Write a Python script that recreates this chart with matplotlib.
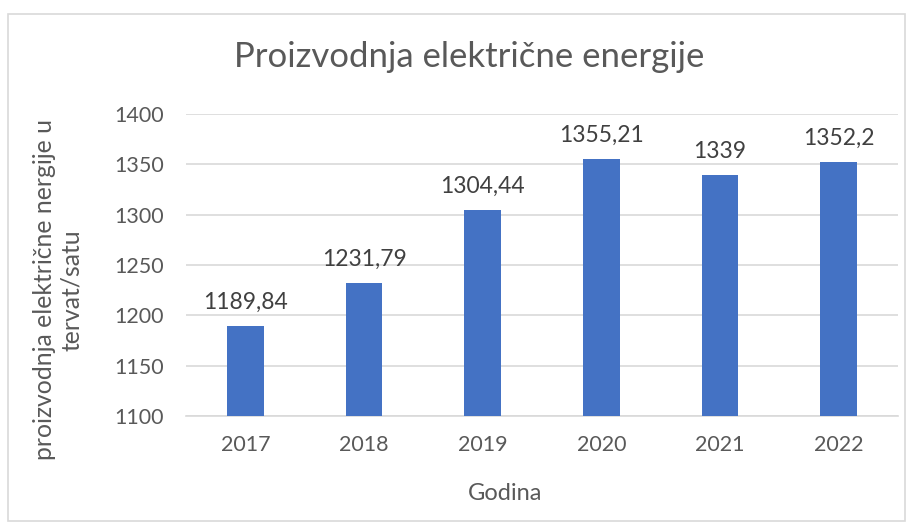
import matplotlib
matplotlib.use("Agg")
import matplotlib.pyplot as plt
from matplotlib.patches import Rectangle

# data
years = ["2017", "2018", "2019", "2020", "2021", "2022"]
values = [1189.84, 1231.79, 1304.44, 1355.21, 1339, 1352.2]
yticks = [1100, 1150, 1200, 1250, 1300, 1350, 1400]

text_col = "#595959"
grid_col = "#d9d9d9"
bar_col = "#4472c4"

plt.rcParams["font.family"] = ["Lato", "DejaVu Sans"]

W, H = 913, 528
fig = plt.figure(figsize=(W / 100, H / 100), dpi=100)

# chart border
fig.patches.append(Rectangle((8 / W, 1 - 521 / H), 897 / W, 507 / H,
                             transform=fig.transFigure, fill=False,
                             edgecolor=grid_col, linewidth=1.2))

ax = fig.add_axes([186 / W, 1 - 416 / H, 712 / W, 302 / H])
x = range(len(years))
ax.bar(x, values, width=0.31, color=bar_col, zorder=3)

for xi, v in zip(x, values):
    ax.text(xi, v + 13, f"{v:g}".replace(".", ","), ha="center", va="bottom",
            fontsize=16.5, color="#404040")

ax.set_xlim(-0.5, len(years) - 0.5)
ax.set_ylim(1100, 1400)
ax.set_yticks(yticks)
ax.set_xticks(list(x))
ax.set_xticklabels(years)
ax.grid(axis="y", color=grid_col, linewidth=1.2, zorder=0)
for s in ["top", "right", "left"]:
    ax.spines[s].set_visible(False)
ax.spines["bottom"].set_color(grid_col)
ax.spines["bottom"].set_linewidth(1.2)
ax.tick_params(length=0, labelsize=15.5, colors=text_col)
ax.tick_params(axis="y", pad=16)
ax.tick_params(axis="x", pad=14)

fig.text(469 / W, 1 - 57 / H, "Proizvodnja električne energije", ha="center",
         va="center", fontsize=25, color=text_col)
fig.text(58 / W, 1 - 290 / H, "proizvodnja električne nergije u\ntervat/satu",
         rotation=90, ha="center", va="center", fontsize=17.8, color=text_col,
         linespacing=1.25, multialignment="center")
fig.text(505 / W, 1 - 493 / H, "Godina", ha="center", va="center",
         fontsize=17, color=text_col)

plt.savefig("out.png", dpi=100)
